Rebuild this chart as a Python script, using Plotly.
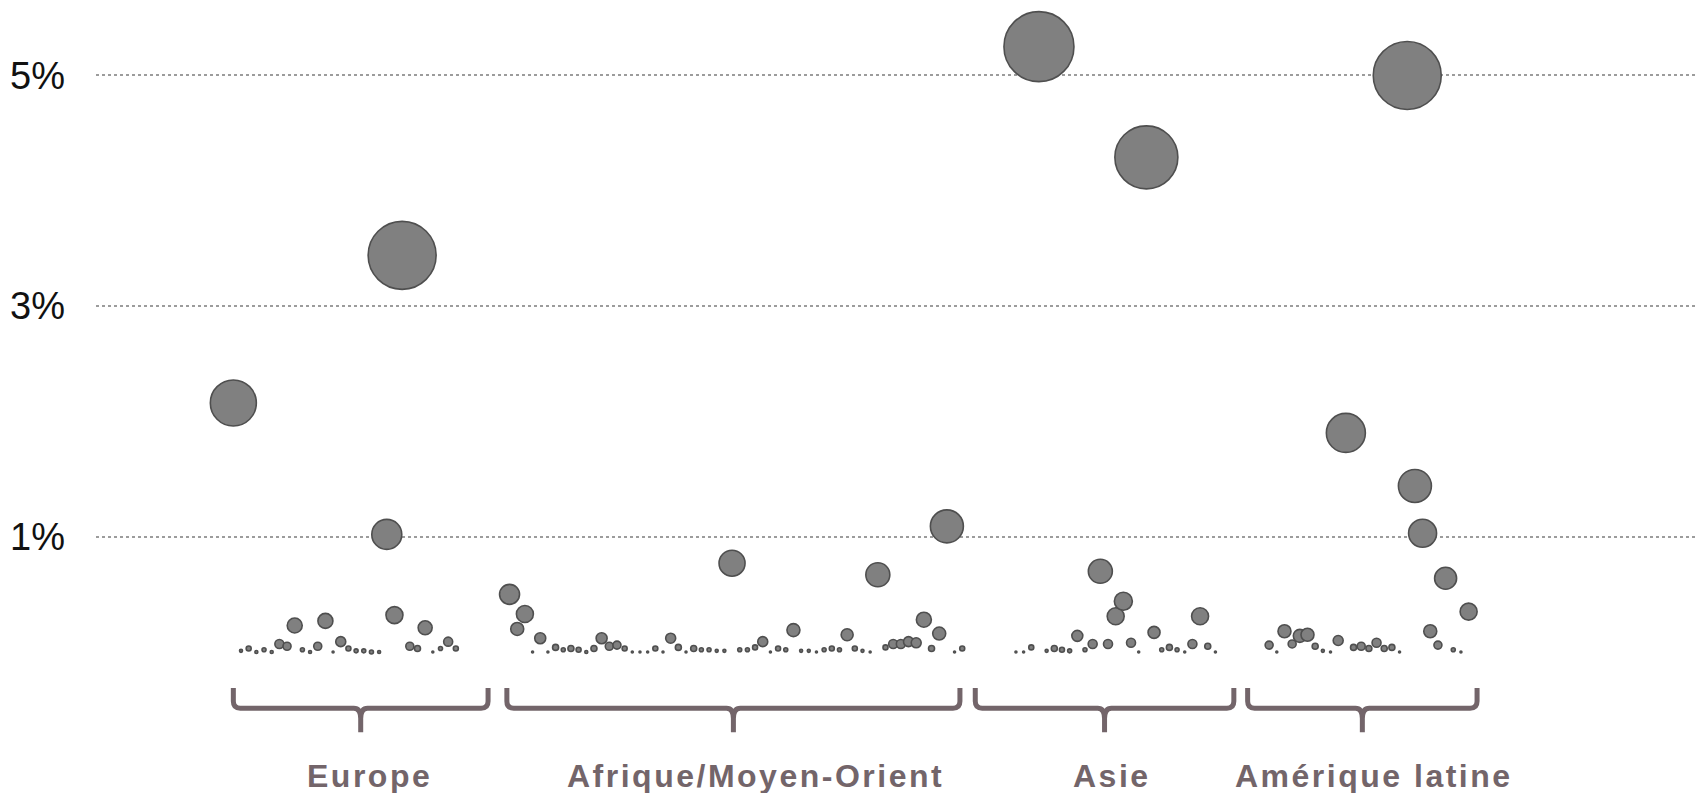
import plotly.graph_objects as go

# ---- data (values in %, bubble sizes in px diameter) ----
regions = ["Europe", "Afrique/Moyen-Orient", "Asie", "Amérique latine"]

europe_vals = [2.16, 0.01, 0.03, 0.00, 0.02, 0.00, 0.07, 0.05, 0.23, 0.02,
               0.00, 0.05, 0.27, 0.00, 0.09, 0.03, 0.01, 0.01, 0.00, 0.00,
               1.02, 0.32, 3.44, 0.05, 0.03, 0.21, 0.00, 0.03, 0.09, 0.03]
europe_sizes = [46, 3, 5, 3, 4, 3, 9, 8, 15, 4,
                3, 8, 15, 2, 10, 5, 4, 4, 4, 3,
                30, 17, 68, 8, 6, 14, 2, 4, 9, 5]

afrique_vals = [0.50, 0.20, 0.33, 0.00, 0.12, 0.00, 0.04, 0.02, 0.03, 0.02,
                0.00, 0.03, 0.12, 0.05, 0.06, 0.03, 0.00, 0.00, 0.00, 0.03,
                0.00, 0.12, 0.04, 0.00, 0.03, 0.02, 0.02, 0.01, 0.01, 0.77,
                0.02, 0.02, 0.04, 0.09, 0.00, 0.03, 0.02, 0.19, 0.01, 0.01,
                0.00, 0.02, 0.03, 0.02, 0.15, 0.03, 0.01, 0.00, 0.67, 0.04,
                0.07, 0.07, 0.09, 0.08, 0.28, 0.03, 0.16, 1.09, 0.00, 0.03]
afrique_sizes = [20, 13, 17, 2, 11, 2, 6, 4, 6, 5,
                 3, 6, 11, 8, 8, 5, 2, 2, 2, 5,
                 2, 10, 6, 2, 6, 4, 4, 3, 3, 26,
                 4, 4, 5, 10, 2, 5, 4, 13, 3, 3,
                 2, 4, 5, 4, 12, 5, 3, 2, 24, 5,
                 9, 9, 10, 10, 15, 6, 13, 33, 2, 5]

asie_vals = [0.00, 0.00, 0.04, 5.25, 0.01, 0.03, 0.02, 0.01, 0.14, 0.02,
             0.07, 0.70, 0.07, 0.31, 0.44, 0.08, 0.00, 4.29, 0.17, 0.02,
             0.04, 0.02, 0.00, 0.07, 0.31, 0.05, 0.00]
asie_sizes = [2, 2, 5, 70, 3, 6, 5, 4, 11, 4,
              9, 24, 9, 17, 18, 9, 2, 63, 12, 4,
              6, 4, 2, 9, 17, 6, 2]

latam_vals = [0.06, 0.00, 0.18, 0.07, 0.14, 0.15, 0.05, 0.01, 0.00, 0.10,
              1.90, 0.04, 0.05, 0.03, 0.08, 0.03, 0.04, 0.00, 5.00, 1.44,
              1.03, 0.18, 0.06, 0.64, 0.02, 0.00, 0.35]
latam_sizes = [8, 2, 13, 8, 13, 13, 6, 3, 2, 10,
               39, 6, 8, 6, 9, 6, 6, 2, 68, 33,
               28, 13, 8, 22, 4, 2, 17]

tick_vals = [1, 3, 5]
tick_text = ["1%", "3%", "5%"]

# ---- layout helpers ----
GAP = 7  # slots between regions
groups = [(europe_vals, europe_sizes), (afrique_vals, afrique_sizes),
          (asie_vals, asie_sizes), (latam_vals, latam_sizes)]

xs, ys, ss = [], [], []
start = 0
for vals, sizes in groups:
    for i, (v, s) in enumerate(zip(vals, sizes)):
        xs.append(start + i)
        ys.append(v)
        ss.append(s)
    start += len(vals) - 1 + GAP

# bracket extents (in slot units) and label centres
bracket_bounds = [(0.0, 33.2), (35.65, 94.7), (96.7, 130.4), (132.2, 162.1)]
label_x = [17.8, 68.0, 114.5, 148.7]

BR = "#73656a"
fig = go.Figure()
fig.add_trace(go.Scatter(
    x=xs, y=ys, mode="markers",
    marker=dict(size=ss, sizemode="diameter", color="#808080",
                line=dict(color="#4f4f4f", width=1.6), opacity=1),
    cliponaxis=False, hoverinfo="y", showlegend=False,
))

y_top, y_h, y_tb = -0.313, -0.487, -0.696
dx, dy = 0.9, 0.06
shapes = []
for (x0, x1) in bracket_bounds:
    xc = (x0 + x1) / 2
    path = (f"M {x0},{y_top} L {x0},{y_h + dy} Q {x0},{y_h} {x0 + dx},{y_h} "
            f"L {xc - dx},{y_h} Q {xc},{y_h} {xc},{y_h - 0.09} L {xc},{y_tb} "
            f"M {xc},{y_h - 0.09} Q {xc},{y_h} {xc + dx},{y_h} "
            f"L {x1 - dx},{y_h} Q {x1},{y_h} {x1},{y_h + dy} L {x1},{y_top}")
    shapes.append(dict(type="path", path=path, xref="x", yref="y",
                       line=dict(color=BR, width=5)))

annotations = []
for name, lx in zip(regions, label_x):
    annotations.append(dict(
        x=lx, y=-1.078, xref="x", yref="y", showarrow=False,
        text=f'<span style="letter-spacing:2.5px">{name}</span>',
        font=dict(family="Liberation Sans, Arial, sans-serif", size=32,
                  color=BR, weight="bold"),
        xanchor="center", yanchor="middle",
    ))

fig.update_layout(
    width=1706, height=793,
    margin=dict(l=88, r=6, t=0, b=0),
    paper_bgcolor="white", plot_bgcolor="white",
    shapes=shapes, annotations=annotations,
    xaxis=dict(range=[-17.9, 192.2], showgrid=False, zeroline=False,
               showticklabels=False, showline=False, fixedrange=True),
    yaxis=dict(range=[-1.292, 5.585], tickvals=tick_vals, ticktext=tick_text,
               showgrid=True, gridcolor="#9c9c9c", gridwidth=2, griddash="dot",
               zeroline=False, showline=False, ticks="",
               ticklabelstandoff=30,
               tickfont=dict(family="Liberation Sans, Arial, sans-serif",
                             size=38, color="#111111")),
)

fig.write_html("out.html")
